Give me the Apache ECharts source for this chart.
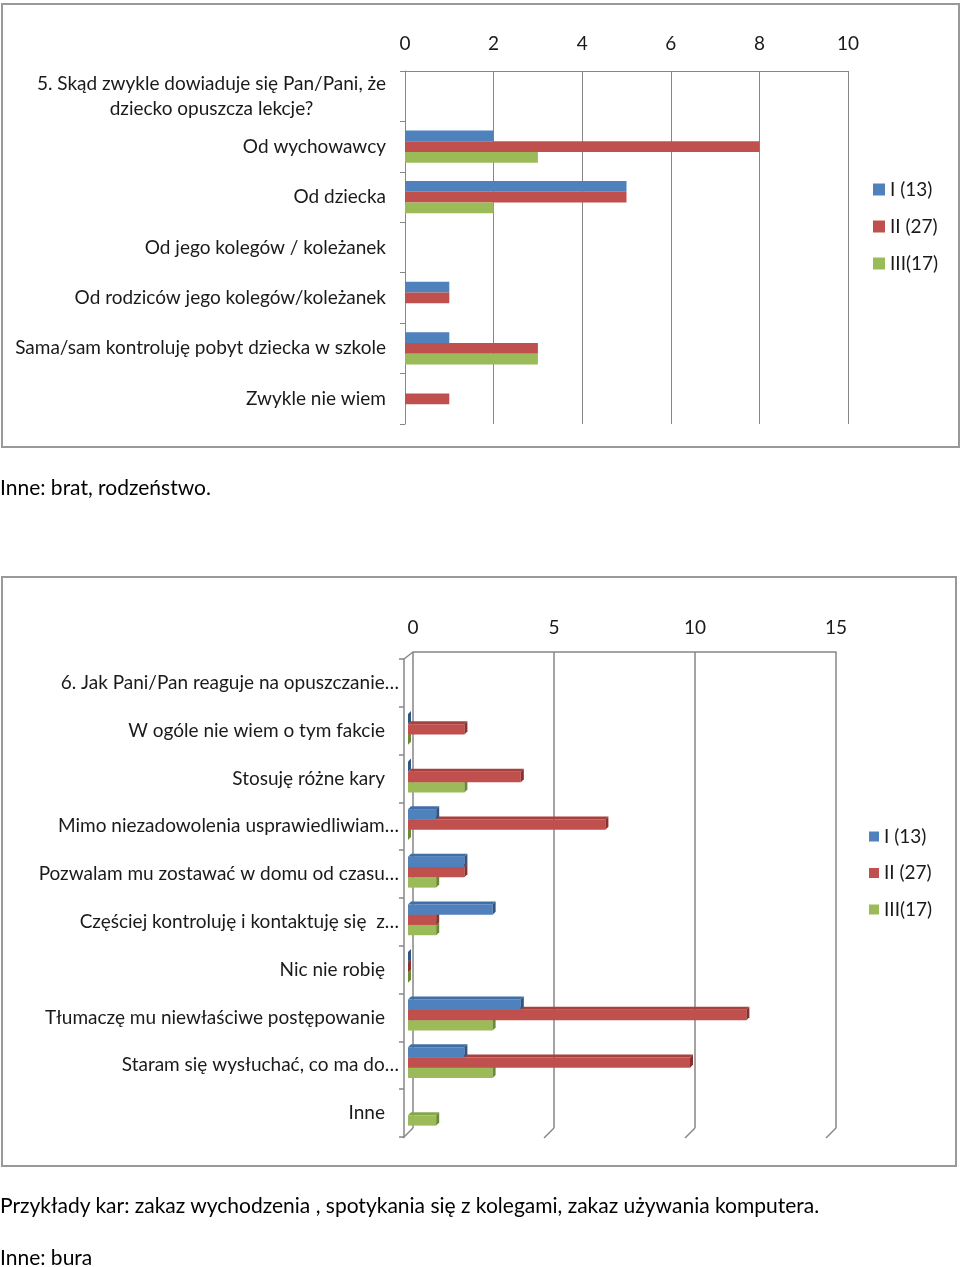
<!DOCTYPE html>
<html>
<head>
<meta charset="utf-8">
<script src="https://cdn.jsdelivr.net/npm/echarts@6/dist/echarts.min.js"></script>
<style>
  html, body { margin:0; padding:0; background:#fff; }
  body { width:960px; height:1267px; position:relative; overflow:hidden; font-family: Lato, "Open Sans", sans-serif; }
  #chart { position:absolute; left:0; top:0; width:960px; height:1267px; }
  .box { position:absolute; border:2px solid #999; box-sizing:border-box; pointer-events:none; }
  .txt { position:absolute; left:0; font-size:21px; line-height:24px; color:#000; white-space:nowrap; }
</style>
</head>
<body>
<div id="chart"></div>
<div class="box" style="left:1px;top:3px;width:959px;height:445px;"></div>
<div class="box" style="left:1px;top:576px;width:956px;height:591px;"></div>
<div class="txt" style="top:475px;">Inne: brat, rodzeństwo.</div>
<div class="txt" style="top:1193px;">Przykłady kar: zakaz wychodzenia , spotykania się z kolegami, zakaz używania komputera.</div>
<div class="txt" style="top:1245px;">Inne: bura</div>
<script>
// ---- data: chart 1 ----
const seriesNames = ['I (13)', 'II (27)', 'III(17)'];
const cat1 = [
  '5. Skąd zwykle dowiaduje się Pan/Pani, że\ndziecko opuszcza lekcje?',
  'Od wychowawcy',
  'Od dziecka',
  'Od jego kolegów / koleżanek',
  'Od rodziców jego kolegów/koleżanek',
  'Sama/sam kontroluję pobyt dziecka w szkole',
  'Zwykle nie wiem'
];
const c1_I   = [null, 2, 5, 0, 1, 1, 0];
const c1_II  = [null, 8, 5, 0, 1, 3, 1];
const c1_III = [null, 3, 2, 0, 0, 3, 0];
const ticks1 = [0, 2, 4, 6, 8, 10];

// ---- data: chart 2 ----
const cat2 = [
  '6. Jak Pani/Pan reaguje na opuszczanie…',
  'W ogóle nie wiem o tym fakcie',
  'Stosuję różne kary',
  'Mimo niezadowolenia usprawiedliwiam…',
  'Pozwalam mu zostawać w domu od czasu…',
  'Częściej kontroluję i kontaktuję się  z…',
  'Nic nie robię',
  'Tłumaczę mu niewłaściwe postępowanie',
  'Staram się wysłuchać, co ma do…',
  'Inne'
];
const c2_I   = [null, 0, 0, 1, 2, 3, 0, 4, 2, null];
const c2_II  = [null, 2, 4, 7, 2, 1, 0, 12, 10, null];
const c2_III = [null, 0, 2, 0, 1, 1, 0, 3, 3, 1];
const ticks2 = [0, 5, 10, 15];

const colors = ['#4F81BD', '#C0504D', '#9BBB59'];
const sideColors = ['#2f5584', '#8a302e', '#6c8a35'];
const topColors = ['#3f6ea8', '#a8403d', '#86a64a'];
const axisColor = '#868686';
const labelColor = '#1a1a1a';
const FONT = 'Lato';
const FS = 19;

function bar3d(sIdx) {
  return function (params, api) {
    const v = api.value(0), c = api.value(1);
    if (isNaN(v)) return;
    const p0 = api.coord([0, c]);
    const p1 = api.coord([v, c]);
    const band = api.size([0, 1])[1];
    const t = band * 0.216;
    const cy = p0[1] + 6;
    const y0 = cy - 1.5 * t + sIdx * t;
    const x0 = p0[0] - 5, x1 = p1[0] - 5;
    const d = 3;
    return {
      type: 'group',
      children: [
        { type: 'rect', shape: { x: x0, y: y0, width: x1 - x0, height: t }, style: { fill: colors[sIdx] } },
        { type: 'polygon', shape: { points: [[x0, y0], [x0 + d, y0 - d], [x1 + d, y0 - d], [x1, y0]] }, style: { fill: topColors[sIdx] } },
        { type: 'polygon', shape: { points: [[x1, y0], [x1 + d, y0 - d], [x1 + d, y0 + t - d], [x1, y0 + t]] }, style: { fill: sideColors[sIdx] } }
      ]
    };
  };
}

function toXY(arr) { return arr.map((v, i) => [v === null ? NaN : v, i]); }

const chart = echarts.init(document.getElementById('chart'), null, { renderer: 'canvas' });

const option = {
  animation: false,
  backgroundColor: 'transparent',
  textStyle: { fontFamily: FONT },
  grid: [
    { left: 405, top: 71, width: 443, height: 353 },
    { left: 413, top: 652, width: 423, height: 476 },
    { left: 404, top: 659, width: 423, height: 478 }
  ],
  legend: [
    {
      data: seriesNames, orient: 'vertical', left: 868, top: 175,
      icon: 'rect', itemWidth: 12, itemHeight: 12, itemGap: 18,
      textStyle: { fontFamily: FONT, fontSize: FS, color: labelColor, lineHeight: 19 }
    },
    {
      data: seriesNames, orient: 'vertical', left: 864, top: 822,
      icon: 'rect', itemWidth: 10, itemHeight: 10, itemGap: 17.5,
      textStyle: { fontFamily: FONT, fontSize: FS, color: labelColor, lineHeight: 19 }
    }
  ],
  xAxis: [
    {
      gridIndex: 0, type: 'value', position: 'top', min: 0, max: ticks1[ticks1.length - 1], interval: 2,
      axisLine: { show: true, lineStyle: { color: axisColor, width: 1 } },
      axisTick: { show: false },
      axisLabel: { fontFamily: FONT, fontSize: FS, color: labelColor, margin: 18 },
      splitLine: { show: true, lineStyle: { color: axisColor, width: 1 } }
    },
    {
      gridIndex: 1, type: 'value', position: 'top', min: 0, max: ticks2[ticks2.length - 1], interval: 5,
      axisLine: { show: true, lineStyle: { color: axisColor, width: 1.5 } },
      axisTick: { show: false },
      axisLabel: { fontFamily: FONT, fontSize: FS, color: labelColor, margin: 15 },
      splitLine: { show: true, lineStyle: { color: axisColor, width: 1.5 } }
    },
    {
      gridIndex: 2, type: 'value', show: false, min: 0, max: ticks2[ticks2.length - 1], interval: 5
    }
  ],
  yAxis: [
    {
      gridIndex: 0, type: 'category', inverse: true, data: cat1,
      axisLine: { show: true, lineStyle: { color: axisColor, width: 1 } },
      axisTick: { show: true, length: 5, interval: 0, lineStyle: { color: axisColor } },
      axisLabel: {
        interval: 0, margin: 19, fontFamily: FONT, fontSize: FS, color: labelColor,
        formatter: function (v) {
          return v.split('\n').map(s => '{c|' + s + '}').join('\n');
        },
        rich: { c: { align: 'center', fontFamily: FONT, fontSize: FS, color: labelColor, lineHeight: 25 } }
      },
      splitLine: { show: false }
    },
    {
      gridIndex: 1, type: 'category', inverse: true, data: cat2, show: false
    },
    {
      gridIndex: 2, type: 'category', inverse: true, data: cat2,
      axisLine: { show: true, lineStyle: { color: axisColor, width: 1.5 } },
      axisTick: { show: true, length: 5, interval: 0, lineStyle: { color: axisColor, width: 1.5 } },
      axisLabel: {
        interval: 0, margin: 5, fontFamily: FONT, fontSize: FS, color: labelColor,
        formatter: function (v) {
          return /…$/.test(v) ? '{a|' + v + '}' : '{b|' + v + '}';
        },
        rich: {
          a: { fontFamily: FONT, fontSize: FS, color: labelColor },
          b: { fontFamily: FONT, fontSize: FS, color: labelColor, padding: [0, 14, 0, 0] }
        }
      },
      splitLine: { show: false }
    }
  ],
  series: [
    { name: seriesNames[0], type: 'bar', xAxisIndex: 0, yAxisIndex: 0, data: c1_I, barGap: '0%', barCategoryGap: '36%', itemStyle: { color: colors[0] } },
    { name: seriesNames[1], type: 'bar', xAxisIndex: 0, yAxisIndex: 0, data: c1_II, barGap: '0%', barCategoryGap: '36%', itemStyle: { color: colors[1] } },
    { name: seriesNames[2], type: 'bar', xAxisIndex: 0, yAxisIndex: 0, data: c1_III, barGap: '0%', barCategoryGap: '36%', itemStyle: { color: colors[2] } },
    { name: seriesNames[2], type: 'custom', xAxisIndex: 1, yAxisIndex: 1, z: 2, data: toXY(c2_III), renderItem: bar3d(2), itemStyle: { color: colors[2] }, encode: { x: 0, y: 1 } },
    { name: seriesNames[1], type: 'custom', xAxisIndex: 1, yAxisIndex: 1, z: 3, data: toXY(c2_II), renderItem: bar3d(1), itemStyle: { color: colors[1] }, encode: { x: 0, y: 1 } },
    { name: seriesNames[0], type: 'custom', xAxisIndex: 1, yAxisIndex: 1, z: 4, data: toXY(c2_I), renderItem: bar3d(0), itemStyle: { color: colors[0] }, encode: { x: 0, y: 1 } },
    {
      type: 'custom', xAxisIndex: 1, yAxisIndex: 1, z: 1, silent: true,
      data: ticks2.map(v => [v, cat2.length - 1]),
      renderItem: function (params, api) {
        const v = api.value(0);
        const p = api.coord([v, api.value(1)]);
        const band = api.size([0, 1])[1];
        const yb = p[1] + band / 2;
        const children = [
          { type: 'line', shape: { x1: p[0], y1: yb, x2: p[0] - 10, y2: yb + 10 }, style: { stroke: axisColor, lineWidth: 1.5 } }
        ];
        if (v === 0) {
          const pt = api.coord([0, 0]);
          const yt = pt[1] - band / 2;
          children.push({ type: 'line', shape: { x1: pt[0], y1: yt, x2: pt[0] - 9, y2: yt + 7 }, style: { stroke: axisColor, lineWidth: 1.5 } });
        }
        return { type: 'group', children: children };
      }
    }
  ]
};
chart.setOption(option);
</script>
</body>
</html>
